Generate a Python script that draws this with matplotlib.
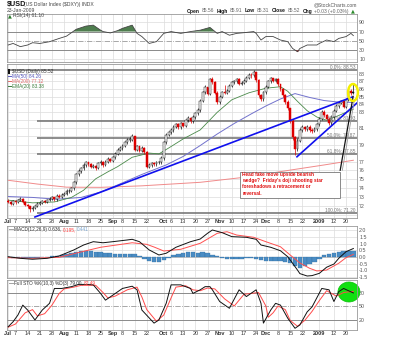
import numpy as np
import pandas as pd
import matplotlib
matplotlib.use('Agg')
import matplotlib.pyplot as plt
from matplotlib.patches import Rectangle, Ellipse
from matplotlib.ticker import FixedLocator, NullLocator, FixedFormatter
from matplotlib.transforms import ScaledTranslation

plt.rcParams['font.family'] = ['Liberation Sans', 'DejaVu Sans']

# ---------------- data ----------------
holidays = ['2008-07-04', '2008-09-01', '2008-11-27', '2008-12-25', '2009-01-01', '2009-01-19']
dates = [d for d in pd.bdate_range('2008-07-01', '2009-01-23') if d.strftime('%Y-%m-%d') not in holidays]

tick_dates = ['2008-07-01', '2008-07-07', '2008-07-14', '2008-07-21', '2008-07-28', '2008-08-04',
              '2008-08-11', '2008-08-18', '2008-08-25', '2008-09-02', '2008-09-08', '2008-09-15',
              '2008-09-22', '2008-10-01', '2008-10-06', '2008-10-13', '2008-10-20', '2008-10-27',
              '2008-11-03', '2008-11-10', '2008-11-17', '2008-11-24', '2008-12-01', '2008-12-08',
              '2008-12-15', '2008-12-22', '2009-01-02', '2009-01-12', '2009-01-20']
tick_labels = ['Jul', '7', '14', '21', '28', 'Aug', '11', '18', '25', 'Sep', '8', '15', '22', 'Oct', '6',
               '13', '20', '27', 'Nov', '10', '17', '24', 'Dec', '8', '15', '22', '2009', '12', '20']
bold_labels = ['Jul', 'Aug', 'Sep', 'Oct', 'Nov', 'Dec', '2009']

open_ = [72.55, 72.40, 72.20, 72.50, 72.35, 72.60, 72.70, 72.40, 72.10, 71.90,
         71.60, 71.75, 71.95, 72.20, 72.30, 72.50, 72.40, 72.60, 72.75, 72.90,
         72.70, 73.10, 73.00, 73.20, 73.30, 73.60, 73.60, 73.90, 74.60, 75.50,
         75.90, 76.20, 76.60, 76.90, 76.70, 76.40, 76.50, 76.20, 76.80, 77.00,
         76.60, 77.00, 77.30, 77.10, 77.50, 77.90, 78.40, 78.60, 78.90, 79.30,
         79.60, 79.60, 80.00, 78.40, 78.80, 78.30, 78.60, 78.10, 76.40, 76.60,
         76.80, 76.70, 76.90, 76.90, 77.40, 79.30, 80.20, 80.50, 80.80, 81.20,
         81.50, 81.10, 81.60, 81.30, 82.00, 82.30, 81.90, 82.40, 82.90, 83.30,
         84.50, 85.60, 86.20, 85.40, 87.30, 86.90, 85.50, 84.30, 85.00, 85.60,
         85.50, 85.80, 86.40, 86.90, 87.00, 87.30, 86.70, 86.80, 87.10, 87.50,
         87.90, 87.80, 88.20, 87.20, 85.20, 84.70, 85.60, 86.30, 87.00, 87.40,
         87.10, 87.30, 86.60, 86.00, 85.20, 84.30, 83.50, 81.90, 79.90, 78.50,
         79.50, 80.80, 81.10, 80.90, 81.20, 80.80, 80.70, 80.90, 81.50, 82.20,
         83.10, 82.60, 82.20, 81.60, 82.40, 83.20, 83.80, 84.20, 84.40, 83.70,
         84.60, 85.80, 85.56]
high = [72.70, 72.55, 72.65, 72.60, 72.75, 72.90, 72.80, 72.50, 72.20, 72.00,
        71.95, 72.10, 72.35, 72.45, 72.65, 72.65, 72.75, 72.90, 73.05, 72.95,
        73.25, 73.25, 73.40, 73.45, 73.80, 73.80, 74.10, 74.80, 75.70, 76.10,
        76.40, 76.80, 77.10, 77.00, 76.80, 76.70, 76.60, 76.95, 77.20, 77.10,
        77.15, 77.50, 77.45, 77.70, 78.10, 78.60, 78.80, 79.10, 79.50, 79.80,
        79.90, 80.30, 80.10, 78.95, 78.90, 78.80, 78.70, 78.20, 76.80, 76.95,
        76.95, 77.10, 77.10, 77.60, 79.50, 80.45, 80.70, 81.00, 81.40, 81.70,
        81.60, 81.80, 81.70, 82.20, 82.50, 82.40, 82.60, 83.10, 83.50, 84.70,
        85.80, 86.50, 86.30, 87.50, 87.60, 87.10, 85.70, 85.20, 85.80, 86.50,
        86.00, 86.60, 87.10, 87.20, 87.50, 87.40, 87.00, 87.30, 87.70, 88.10,
        88.10, 88.46, 88.30, 87.30, 85.40, 85.80, 86.50, 87.20, 87.60, 87.50,
        87.50, 87.40, 86.70, 86.10, 85.40, 84.60, 83.60, 82.10, 80.10, 79.80,
        81.00, 81.40, 81.30, 81.40, 81.40, 81.00, 81.10, 81.70, 82.40, 83.30,
        83.30, 82.80, 82.40, 82.60, 83.40, 84.00, 84.40, 84.60, 84.50, 84.80,
        86.00, 86.00, 86.60]
low = [72.25, 72.05, 72.10, 72.20, 72.25, 72.45, 72.30, 71.95, 71.75, 71.30,
       71.45, 71.65, 71.85, 72.05, 72.15, 72.25, 72.25, 72.45, 72.60, 72.50,
       72.55, 72.85, 72.85, 73.05, 73.15, 73.40, 73.45, 73.75, 74.40, 75.30,
       75.70, 76.00, 76.40, 76.50, 76.20, 76.20, 76.00, 76.10, 76.60, 76.40,
       76.45, 76.85, 76.90, 76.95, 77.35, 77.75, 78.20, 78.40, 78.70, 79.10,
       79.30, 79.40, 78.20, 78.20, 78.10, 78.10, 77.90, 76.20, 76.20, 76.40,
       76.50, 76.50, 76.70, 76.70, 77.20, 79.10, 80.00, 80.30, 80.60, 81.00,
       80.90, 80.90, 81.10, 81.10, 81.80, 81.70, 81.70, 82.20, 82.70, 83.10,
       84.30, 85.40, 85.20, 85.20, 86.70, 85.30, 84.00, 84.10, 84.80, 85.30,
       85.30, 85.60, 86.20, 86.70, 86.80, 86.50, 86.50, 86.60, 86.90, 87.30,
       87.50, 87.60, 86.90, 84.90, 84.50, 84.50, 85.40, 86.10, 86.80, 86.90,
       86.90, 86.40, 85.80, 85.00, 84.00, 83.30, 81.70, 79.60, 77.80, 78.30,
       79.30, 80.50, 80.70, 80.70, 80.60, 80.40, 80.50, 80.70, 81.30, 82.00,
       82.40, 82.00, 81.40, 81.40, 82.20, 83.00, 83.60, 84.00, 83.50, 83.50,
       84.40, 85.20, 85.31]
close = [72.40, 72.20, 72.50, 72.35, 72.60, 72.70, 72.40, 72.10, 71.90, 71.60,
         71.75, 71.95, 72.20, 72.30, 72.50, 72.40, 72.60, 72.75, 72.90, 72.70,
         73.10, 73.00, 73.20, 73.30, 73.60, 73.60, 73.90, 74.60, 75.50, 75.90,
         76.20, 76.60, 76.90, 76.70, 76.40, 76.50, 76.20, 76.80, 77.00, 76.60,
         77.00, 77.30, 77.10, 77.50, 77.90, 78.40, 78.60, 78.90, 79.30, 79.60,
         79.60, 80.00, 78.40, 78.80, 78.30, 78.60, 78.10, 76.40, 76.60, 76.80,
         76.70, 76.90, 76.90, 77.40, 79.30, 80.20, 80.50, 80.80, 81.20, 81.50,
         81.10, 81.60, 81.30, 82.00, 82.30, 81.90, 82.40, 82.90, 83.30, 84.50,
         85.60, 86.20, 85.40, 87.30, 86.90, 85.50, 84.30, 85.00, 85.60, 85.50,
         85.80, 86.40, 86.90, 87.00, 87.30, 86.70, 86.80, 87.10, 87.50, 87.90,
         87.80, 88.20, 87.20, 85.20, 84.70, 85.60, 86.30, 87.00, 87.40, 87.10,
         87.30, 86.60, 86.00, 85.20, 84.30, 83.50, 81.90, 79.90, 78.50, 79.50,
         80.80, 81.10, 80.90, 81.20, 80.80, 80.70, 80.90, 81.50, 82.20, 83.10,
         82.60, 82.20, 81.60, 82.40, 83.20, 83.80, 84.20, 84.40, 83.70, 84.60,
         85.80, 85.50, 85.52]

ma50_x = [0, 10, 20, 30, 38, 45, 55, 65, 72, 79, 86, 93, 100, 106, 112, 118, 124, 130, 136, 142]
ma50_y = [73.0, 72.9, 72.7, 72.9, 73.5, 74.3, 75.5, 76.6, 77.6, 78.9, 80.3, 81.6, 82.8, 83.8, 84.7,
          85.4, 84.9, 84.5, 84.3, 84.26]
ma200_x = [0, 12, 24, 38, 55, 79, 98, 116, 130, 142]
ma200_y = [74.83, 74.4, 74.05, 74.03, 74.2, 74.6, 75.2, 76.0, 76.6, 77.15]
ema20_x = [0, 10, 19, 26, 31, 36, 41, 45, 51, 58, 62, 66, 72, 79, 86, 92, 99, 106, 112, 115, 119,
           123, 127, 131, 136, 142]
ema20_y = [72.6, 72.3, 72.4, 72.9, 73.7, 75.0, 75.8, 76.4, 77.5, 78.0, 77.9, 78.6, 79.7, 80.8, 83.0,
           84.6, 85.5, 86.1, 86.3, 85.7, 84.4, 83.2, 82.4, 82.0, 82.6, 83.4]

fib_pct = ['0.0%', '38.2%', '50.0%', '61.8%', '100.0%']
fib_val = [88.53, 81.93, 79.87, 77.85, 71.20]

trend1_x = [11, 141.5]
trend1_y = [70.76, 84.95]
trend2_x = [118.8, 143.5]
trend2_y = [77.56, 84.19]

rsi_x = [0, 2, 5, 8, 10, 13, 17, 21, 24, 28, 32, 35, 38, 39, 42, 45, 47, 51, 53, 55, 58, 61, 64, 67,
         71, 75, 79, 83, 86, 88, 91, 94, 97, 101, 102, 104, 106, 109, 112, 115, 117, 119, 120, 123,
         127, 128, 131, 134, 136, 139, 141, 142]
rsi_y = [40.6, 44, 37, 40.6, 45.6, 44, 47.8, 55, 60, 75, 82, 84, 73, 70, 67, 72, 77, 84, 66, 59, 44,
         48, 66, 70, 66, 70, 73, 79, 66, 70, 62, 66, 67.5, 70, 66, 51.5, 59, 59, 51.5, 48, 33, 26,
         33, 40.6, 40.6, 44, 51.5, 48, 55, 59, 66, 61.1]

macd_x = [0, 5, 10, 16, 21, 27, 31, 35, 39, 43, 49, 51, 54, 58, 62, 65, 69, 75, 79, 82, 84, 88, 92,
          98, 102, 104, 108, 112, 115, 117, 119, 120, 123, 125, 128, 131, 134, 136, 139, 142]
macd_y = [0.02, -0.1, -0.17, -0.1, 0.08, 0.53, 0.9, 1.15, 1.07, 1.15, 1.28, 1.33, 1.15, 0.53, 0.15,
          0.28, 0.73, 1.15, 1.35, 1.78, 2.03, 1.83, 1.53, 1.48, 1.33, 0.9, 0.73, 0.47, 0.02, -0.47,
          -0.98, -1.25, -1.43, -1.4, -1.23, -0.77, -0.53, -0.1, 0.4, 0.636]
sig_x = [0, 10, 21, 30, 38, 51, 57, 60, 64, 71, 79, 86, 90, 94, 101, 106, 112, 116, 120, 124, 127,
         131, 136, 139, 142]
sig_y = [-0.05, -0.1, -0.02, 0.38, 0.73, 1.07, 0.95, 0.75, 0.45, 0.58, 1.03, 1.78, 1.9, 1.65, 1.48,
         1.15, 0.77, 0.15, -0.45, -0.85, -1.05, -0.98, -0.47, -0.05, 0.195]
hist_x = list(range(0, 143, 2))
hist_y = [-0.03, -0.05, -0.07, -0.08, -0.08, -0.07, -0.05, -0.02,
          0.01, 0.04, 0.08, 0.14, 0.22, 0.3,
          0.38, 0.45, 0.48, 0.46, 0.4, 0.34,
          0.3, 0.27, 0.25, 0.24, 0.25, 0.26, 0.2, 0.08,
          -0.12, -0.3, -0.4, -0.35, -0.22, -0.06,
          0.12, 0.26, 0.33, 0.35, 0.34, 0.33, 0.35,
          0.3, 0.18, 0.05, -0.1, -0.18, -0.18,
          -0.15, -0.12, -0.1, -0.1, -0.15, -0.25, -0.33,
          -0.33, -0.3, -0.3, -0.35, -0.45, -0.65, -0.8,
          -0.7, -0.55, -0.35, -0.12, 0.12,
          0.25, 0.33, 0.38, 0.42, 0.45, 0.44]

stok_x = [0, 2, 4, 6, 8, 11, 14, 17, 19, 22, 26, 29, 32, 35, 38, 40, 43, 47, 51, 53, 55, 60, 62, 65,
          67, 71, 75, 76, 79, 81, 83, 84, 87, 91, 95, 98, 102, 104, 105, 108, 110, 112, 115, 118,
          120, 123, 125, 129, 132, 134, 136, 138, 142]
stok_y = [4, 15, 30, 52, 41, 19, 41, 56, 89, 89, 93, 98, 98, 97, 78, 63, 74, 89, 94, 86, 41, 12, 19,
          56, 97, 97, 89, 78, 86, 93, 93, 86, 60, 45, 86, 71, 86, 56, 12, 41, 56, 52, 23, 0.5, 8,
          37, 48, 89, 86, 60, 82, 89, 79]
stod_x = [0, 3, 7, 10, 12, 15, 18, 21, 23, 27, 30, 36, 39, 41, 44, 49, 53, 55, 57, 61, 64, 67, 69,
          73, 76, 79, 82, 85, 89, 93, 97, 100, 103, 106, 107, 109, 111, 114, 116, 119, 122, 125,
          128, 131, 133, 135, 138, 142]
stod_y = [3, 10, 35, 42, 28, 33, 52, 78, 88, 92, 96, 96, 80, 68, 72, 86, 92, 70, 42, 16, 30, 68, 92,
          95, 86, 84, 90, 88, 66, 50, 76, 78, 80, 50, 25, 35, 50, 42, 18, 5, 18, 38, 62, 84, 78, 72,
          80, 82.49]

# ---------------- figure ----------------
W, H = 400, 341
fig = plt.figure(figsize=(W / 100, H / 100), dpi=100)
fig.patch.set_facecolor('white')
renderer = fig.canvas.get_renderer()

def rect(top, bottom, left=7, right=357):
    return [left / W, 1 - bottom / H, (right - left) / W, (bottom - top) / H]

def ftext(x, y, s, **kw):
    kw.setdefault('va', 'center')
    return fig.text(x / W, 1 - y / H, s, **kw)

def seq_text(x, y, parts, gap=1.5, fs=3.6):
    """Place text pieces one after another (pixel coords)."""
    for s, color, weight, fam in parts:
        kw = dict(fontsize=fs, color=color, fontweight=weight)
        if fam:
            kw['family'] = fam
        t = ftext(x, y, s, **kw)
        bb = t.get_window_extent(renderer=renderer)
        x += bb.width + gap

ax_r = fig.add_axes(rect(14, 62))
ax_p = fig.add_axes(rect(64, 218))
ax_m = fig.add_axes(rect(226, 278))
ax_s = fig.add_axes(rect(280, 330))

n = len(close)
xi = np.arange(n)
tick_pos = [dates.index(pd.Timestamp(d)) for d in tick_dates]
GRID = '#dcdcdc'
TXT = '#555555'
FS = 3.8

for ax in (ax_r, ax_p, ax_m, ax_s):
    ax.set_xlim(-0.5, n + 0.5)
    for s in ax.spines.values():
        s.set_color('#999999')
        s.set_linewidth(0.6)
    ax.yaxis.tick_right()
    ax.tick_params(axis='both', length=0, labelsize=FS, colors=TXT, pad=1.5)
    for t in tick_pos:
        ax.axvline(t, color=GRID, lw=0.5, zorder=0)
    ax.set_xticks(tick_pos)
    ax.set_xticklabels([])

def xlabels(ax):
    ax.set_xticklabels(tick_labels)
    for lab in ax.get_xticklabels():
        lab.set_fontsize(4.0)
        lab.set_color('#333333')
        if lab.get_text() in bold_labels:
            lab.set_fontweight('bold')
        lab.set_transform(lab.get_transform() + ScaledTranslation(2.5 / 100, 0, fig.dpi_scale_trans))
    ax.tick_params(axis='x', pad=1.0)

# ---------------- header ----------------
ftext(7, 4.5, '$USD', fontsize=5.2, fontweight='bold', color='#111111')
ftext(24, 4.7, '(US Dollar Index ($DXY)) INDX', fontsize=3.6, color='#444444')
ftext(7, 11, '23-Jan-2009', fontsize=3.6, color='#444444')
ftext(357, 4.5, '@StockCharts.com', fontsize=3.6, color='#555555', ha='right')
seq_text(187, 11, [('Open', '#111111', 'bold', None), ('85.56', '#666666', 'normal', None),
                   ('High', '#111111', 'bold', None), ('85.91', '#666666', 'normal', None),
                   ('Low', '#111111', 'bold', None), ('85.31', '#666666', 'normal', None),
                   ('Close', '#111111', 'bold', None), ('85.52', '#666666', 'normal', None),
                   ('Chg', '#111111', 'bold', None), ('+0.03 (+0.03%)', '#666666', 'normal', None),
                   ('▲', '#2a8a2a', 'normal', ['DejaVu Sans'])], gap=2.2, fs=3.6)

# ---------------- RSI ----------------
ax_r.set_ylim(3.4, 108.4)
rx = np.array(rsi_x, float)
ry = np.array(rsi_y, float)
for v in (10, 90):
    ax_r.axhline(v, color=GRID, lw=0.5, zorder=0)
ax_r.axhline(70, color='#8a8a8a', lw=0.7, zorder=1)
ax_r.axhline(30, color='#8a8a8a', lw=0.7, zorder=1)
ax_r.axhline(50, color='#999999', lw=0.6, ls='-.', zorder=1)
ax_r.fill_between(rx, 70, ry, where=ry >= 70, interpolate=True, color='#4e7d4e', lw=0, zorder=2)
ax_r.fill_between(rx, 30, ry, where=ry <= 30, interpolate=True, color='#9e2f2f', lw=0, zorder=2)
ax_r.plot(rx, ry, color='#444444', lw=0.6, zorder=3)
ax_r.set_yticks([10, 30, 50, 70, 90])
seq_text(8, 16, [('▲', '#2a7a2a', 'normal', ['DejaVu Sans']), ('RSI(14) 61.10', '#444444', 'normal', None)],
         gap=1.0, fs=3.6)

# ---------------- Price ----------------
ax_p.set_yscale('log')
ax_p.set_ylim(70.65, 89.34)
for v in range(71, 89):
    ax_p.axhline(v, color=GRID, lw=0.5, zorder=0)
ptick = [72, 73, 74, 75, 76, 77, 79, 81, 83, 84, 85, 86, 87, 88]
ax_p.yaxis.set_major_locator(FixedLocator(ptick))
ax_p.yaxis.set_major_formatter(FixedFormatter([str(v) for v in ptick]))
ax_p.yaxis.set_minor_locator(NullLocator())
ax_p.tick_params(axis='y', labelsize=FS, colors=TXT)

fib_start = 12
for i, (pct, v) in enumerate(zip(fib_pct, fib_val)):
    x0 = -0.5 if i == 0 else fib_start
    ax_p.plot([x0, n + 0.5], [v, v], color='#6e6e6e', lw=1.1, zorder=1, solid_capstyle='butt')
    ax_p.text(0.995, v, f'{pct}: {v:.2f}', transform=ax_p.get_yaxis_transform(), ha='right', va='bottom',
              fontsize=3.4, color='#777777', zorder=6)

ax_p.plot(ma200_x, ma200_y, color='#f08a8a', lw=0.7, zorder=2)
ax_p.plot(ma50_x, ma50_y, color='#7272cc', lw=0.7, zorder=2)
ax_p.plot(ema20_x, ema20_y, color='#4a8a4a', lw=0.6, zorder=2)

O = np.array(open_)
Hh = np.array(high)
L = np.array(low)
C = np.array(close)
prev = np.concatenate([[O[0]], C[:-1]])
down = C < prev
edge = np.where(down, '#dd0000', '#111111')
face = np.where(C < O, edge, '#ffffff')
ax_p.vlines(xi, L, Hh, colors=edge, lw=0.5, zorder=3)
body_lo = np.minimum(O, C)
body_h = np.maximum(np.abs(C - O), 0.04)
ax_p.bar(xi, body_h, bottom=body_lo, width=0.75, color=face, edgecolor=edge, lw=0.35, zorder=4)

ax_p.plot(trend1_x, trend1_y, color='#1010ee', lw=1.2, zorder=5)
ax_p.plot(trend2_x, trend2_y, color='#1010ee', lw=1.2, zorder=5)

# annotation box & callout
ax_p.plot([0.952, 0.989], [0.31, 0.79], transform=ax_p.transAxes, color='#111111', lw=0.9, zorder=6)
ax_p.plot([0.958, 0.993], [0.31, 0.77], transform=ax_p.transAxes, color='#9a9a9a', lw=0.6, zorder=6)
ax_p.add_patch(Rectangle((0.6657, 0.13), 0.2857, 0.169, transform=ax_p.transAxes, facecolor='white',
                         edgecolor='#777777', lw=0.6, zorder=7))
note = ["Head fake move upside bearish", "wedge?  Friday's doji shooting star",
        "foreshadows a retracement or", "reversal."]
for k, line in enumerate(note):
    ax_p.text(0.672, 0.285 - k * 0.041, line, transform=ax_p.transAxes, fontsize=3.4, fontweight='bold',
              color='#e01010', va='center', ha='left', zorder=8)
ax_p.add_patch(Ellipse((0.9886, 0.815), 0.028, 0.11, transform=ax_p.transAxes, facecolor='none',
                       edgecolor='#f5f000', lw=1.8, zorder=9, clip_on=False))

# legend in price panel
ax_p.add_patch(Rectangle((0.003, 0.935), 0.006, 0.035, transform=ax_p.transAxes, facecolor='#111111', zorder=7))
legs = [('$USD (Daily) 85.52', '#333333'), ('MA(50) 84.26', '#5b5bc0'),
        ('MA(200) 77.12', '#e06a6a'), ('EMA(20) 83.38', '#3a7a3a')]
for k, (s, c) in enumerate(legs):
    yy = 0.953 - k * 0.033
    if k > 0:
        ax_p.plot([0.003, 0.011], [yy, yy], transform=ax_p.transAxes, color=c, lw=0.7, zorder=7)
    ax_p.text(0.014, yy, s, transform=ax_p.transAxes, fontsize=3.4, color=c, va='center', zorder=7)
xlabels(ax_p)

# ---------------- MACD ----------------
ax_m.set_ylim(-1.58, 2.33)
for v in (-1.5, -1.0, -0.5, 0.5, 1.0, 1.5, 2.0):
    ax_m.axhline(v, color=GRID, lw=0.5, zorder=0)
ax_m.axhline(0, color='#b0b0b0', lw=0.5, zorder=0)
ax_m.bar(hist_x, hist_y, width=1.8, color='#4a8cc4', edgecolor='#2f6a9a', lw=0.2, zorder=2)
ax_m.plot(sig_x, sig_y, color='#ff5050', lw=0.7, zorder=3)
ax_m.plot(macd_x, macd_y, color='#111111', lw=0.7, zorder=4)
mt = [2.0, 1.5, 1.0, 0.5, 0.0, -0.5, -1.0, -1.5]
ax_m.set_yticks(mt)
ax_m.set_yticklabels([f'{v:.1f}' for v in mt])
ftext(9, 229.6, '—', fontsize=3.6, color='#111111')
seq_text(14, 229.6, [('MACD(12,26,9) 0.636,', '#333333', 'normal', None),
                     ('0.195,', '#ff4040', 'normal', None),
                     ('0.441', '#7aa6d0', 'normal', None)], gap=1.2, fs=3.4)

# ---------------- Full STO ----------------
ax_s.set_ylim(-3.3, 107.8)
ax_s.axhline(80, color='#8a8a8a', lw=0.7, zorder=1)
ax_s.axhline(20, color='#8a8a8a', lw=0.7, zorder=1)
ax_s.axhline(50, color='#999999', lw=0.6, ls='-.', zorder=1)
ax_s.add_patch(Ellipse((0.977, 0.76), 0.063, 0.40, transform=ax_s.transAxes, facecolor='#11e011',
                       edgecolor='#0cc00c', lw=0.5, zorder=2, clip_on=False))
ax_s.plot(stod_x, stod_y, color='#ff4a4a', lw=0.7, zorder=3)
ax_s.plot(stok_x, stok_y, color='#111111', lw=0.7, zorder=4)
ax_s.set_yticks([80, 50, 20])
ftext(9, 283.5, '—', fontsize=3.6, color='#111111')
seq_text(14, 283.5, [('Full STO %K(10,3) %D(3) 79.00,', '#333333', 'normal', None),
                     ('82.49', '#ff4040', 'normal', None)], gap=1.2, fs=3.4)
xlabels(ax_s)

fig.savefig('out.png', dpi=100, facecolor='white')
